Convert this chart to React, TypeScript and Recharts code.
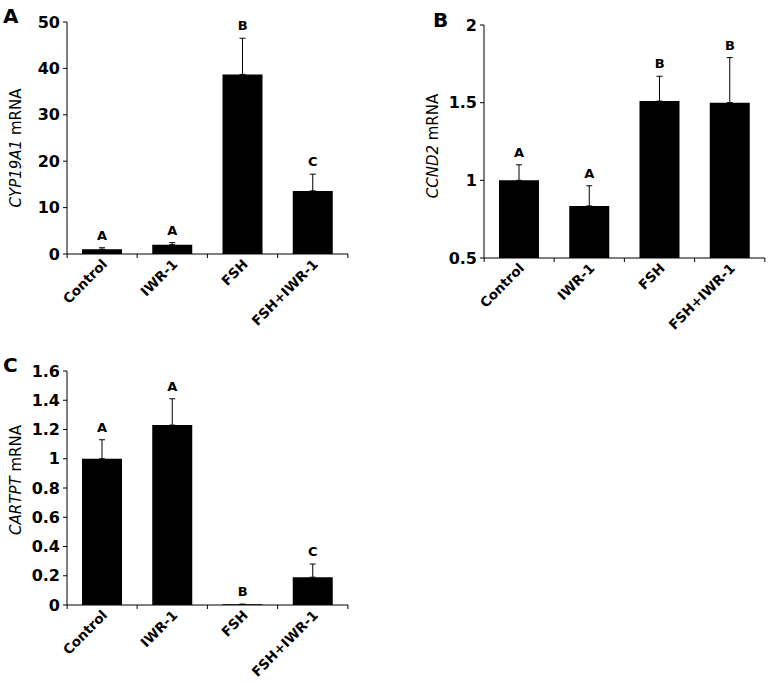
import { BarChart, Bar, XAxis, YAxis, ErrorBar, ReferenceDot } from 'recharts';

const categories = ['Control', 'IWR-1', 'FSH', 'FSH+IWR-1'];

// A: CYP19A1
const cyp19a1Mean = [1.0, 2.0, 38.7, 13.6];
const cyp19a1Err = [0.35, 0.45, 7.8, 3.6];
const cyp19a1Letters = ['A', 'A', 'B', 'C'];
const cyp19a1Ticks = [0, 10, 20, 30, 40, 50];

// B: CCND2
const ccnd2Mean = [1.0, 0.835, 1.51, 1.5];
const ccnd2Err = [0.1, 0.13, 0.16, 0.29];
const ccnd2Letters = ['A', 'A', 'B', 'B'];
const ccnd2Ticks = [0.5, 1, 1.5, 2];

// C: CARTPT
const cartptMean = [1.0, 1.23, 0.005, 0.19];
const cartptErr = [0.13, 0.18, 0, 0.09];
const cartptLetters = ['A', 'A', 'B', 'C'];
const cartptTicks = [0, 0.2, 0.4, 0.6, 0.8, 1, 1.2, 1.4, 1.6];

const FONT = '"DejaVu Sans", sans-serif';
const BAND = 70;

function CatTick(props: any) {
  const { x, y, payload, index } = props;
  const half = BAND / 2;
  const tx = x + 6;
  const ty = y + 11;
  return (
    <g>
      {index === 0 && <line x1={x - half} y1={y} x2={x - half} y2={y + 4} stroke="#000" />}
      <line x1={x + half} y1={y} x2={x + half} y2={y + 4} stroke="#000" />
      <text
        x={tx}
        y={ty}
        transform={`rotate(-45 ${tx} ${ty})`}
        textAnchor="end"
        fontFamily={FONT}
        fontWeight="bold"
        fontSize={13.5}
        fill="#000"
      >
        {payload.value}
      </text>
    </g>
  );
}

interface PanelProps {
  panel: string;
  gene: string;
  mean: number[];
  err: number[];
  letters: string[];
  ticks: number[];
  left: number;
  top: number;
  width: number;
  height: number;
  margin: { top: number; right: number; left: number; bottom: number };
  yAxisWidth: number;
  labelX: number;
  labelY: number;
  panelX: number;
  panelY: number;
}

function Panel(p: PanelProps) {
  const data = categories.map((c, i) => ({
    name: c,
    mean: p.mean[i],
    err: [0, p.err[i]],
    top: p.mean[i] + p.err[i],
    letter: p.letters[i],
  }));
  return (
    <div style={{ position: 'absolute', left: p.left, top: p.top }}>
      <BarChart width={p.width} height={p.height} data={data} margin={p.margin} barSize={40}>
        <XAxis
          dataKey="name"
          interval={0}
          height={70}
          axisLine={{ stroke: '#000' }}
          tickLine={false}
          tickSize={0}
          tickMargin={0}
          tick={(t: any) => <CatTick {...t} />}
        />
        <YAxis
          type="number"
          domain={[p.ticks[0], p.ticks[p.ticks.length - 1]]}
          ticks={p.ticks}
          interval={0}
          width={p.yAxisWidth}
          axisLine={{ stroke: '#000' }}
          tickLine={{ stroke: '#000' }}
          tickSize={4}
          tickMargin={3}
          tick={{ fill: '#000', fontFamily: FONT, fontWeight: 'bold', fontSize: 16 }}
        />
        <Bar dataKey="mean" fill="#000" isAnimationActive={false}>
          <ErrorBar dataKey="err" direction="y" width={3} stroke="#000" strokeWidth={1} isAnimationActive={false} />
        </Bar>
        {data.map((d) => (
          <ReferenceDot
            key={d.name}
            x={d.name}
            y={d.top}
            r={0}
            fill="none"
            stroke="none"
            label={{
              value: d.letter,
              position: 'top',
              offset: 8,
              fill: '#000',
              fontFamily: FONT,
              fontWeight: 'bold',
              fontSize: 13,
            }}
          />
        ))}
        <text
          x={p.labelX}
          y={p.labelY}
          transform={`rotate(-90 ${p.labelX} ${p.labelY})`}
          textAnchor="middle"
          dominantBaseline="central"
          fontFamily={FONT}
          fontSize={15}
          fill="#000"
        >
          <tspan fontStyle="italic">{p.gene}</tspan> mRNA
        </text>
        <text x={p.panelX} y={p.panelY} fontFamily={FONT} fontWeight="bold" fontSize={20} fill="#000">
          {p.panel}
        </text>
      </BarChart>
    </div>
  );
}

export default function App() {
  return (
    <div style={{ position: 'absolute', left: 0, top: 0, width: 770, height: 683, background: '#fff', overflow: 'hidden' }}>
      <Panel
        panel="A"
        gene="CYP19A1"
        mean={cyp19a1Mean}
        err={cyp19a1Err}
        letters={cyp19a1Letters}
        ticks={cyp19a1Ticks}
        left={0}
        top={0}
        width={360}
        height={345}
        margin={{ top: 22, right: 12, left: 0, bottom: 21 }}
        yAxisWidth={67}
        labelX={16}
        labelY={148}
        panelX={3}
        panelY={23}
      />
      <Panel
        panel="B"
        gene="CCND2"
        mean={ccnd2Mean}
        err={ccnd2Err}
        letters={ccnd2Letters}
        ticks={ccnd2Ticks}
        left={390}
        top={0}
        width={380}
        height={345}
        margin={{ top: 25, right: 5, left: 0, bottom: 17 }}
        yAxisWidth={94}
        labelX={43}
        labelY={146}
        panelX={43}
        panelY={27}
      />
      <Panel
        panel="C"
        gene="CARTPT"
        mean={cartptMean}
        err={cartptErr}
        letters={cartptLetters}
        ticks={cartptTicks}
        left={0}
        top={330}
        width={360}
        height={353}
        margin={{ top: 41, right: 12, left: 0, bottom: 8 }}
        yAxisWidth={67}
        labelX={16}
        labelY={150}
        panelX={3}
        panelY={42}
      />
    </div>
  );
}
